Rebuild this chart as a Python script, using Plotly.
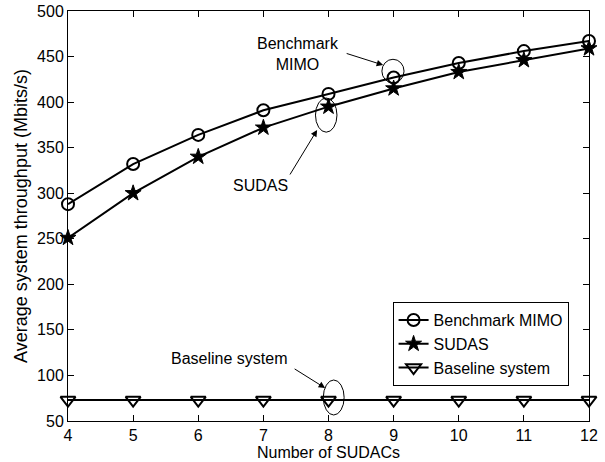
import plotly.graph_objects as go

num_sudacs = [4, 5, 6, 7, 8, 9, 10, 11, 12]
benchmark_mimo = [288, 332, 364, 391, 409, 427, 443, 456, 467]
sudas = [251, 300, 340, 372, 395, 415, 433, 446, 459]
baseline = [73, 73, 73, 73, 73, 73, 73, 73, 73]

x_ticks = [4, 5, 6, 7, 8, 9, 10, 11, 12]
y_ticks = [50, 100, 150, 200, 250, 300, 350, 400, 450, 500]

FONT = "Liberation Sans, Arial, sans-serif"

fig = go.Figure()
fig.add_trace(go.Scatter(
    x=num_sudacs, y=benchmark_mimo, name="Benchmark MIMO", mode="lines+markers",
    line=dict(color="black", width=2), cliponaxis=False,
    marker=dict(symbol="circle-open", size=12, color="black", line=dict(width=2)),
))
fig.add_trace(go.Scatter(
    x=num_sudacs, y=sudas, name="SUDAS", mode="lines+markers",
    line=dict(color="black", width=2), cliponaxis=False,
    marker=dict(symbol="star", size=12, color="black", line=dict(width=1, color="black")),
))
fig.add_trace(go.Scatter(
    x=num_sudacs, y=baseline, name="Baseline system", mode="lines+markers",
    line=dict(color="black", width=2), cliponaxis=False,
    marker=dict(symbol="triangle-down-open", size=13, color="black", line=dict(width=2)),
))

# ellipses
ell = dict(type="circle", xref="x", yref="y", line=dict(color="black", width=1))
fig.add_shape(x0=8.82, x1=9.16, y0=421, y1=447, **ell)
fig.add_shape(x0=7.80, x1=8.13, y0=367, y1=404.5, **ell)
fig.add_shape(x0=7.92, x1=8.24, y0=56.6, y1=95, **ell)

# arrows
arr = dict(xref="x", yref="y", axref="x", ayref="y", text="", showarrow=True,
           arrowhead=2, arrowsize=1.3, arrowwidth=1, arrowcolor="black",
           standoff=0, startstandoff=0)
fig.add_annotation(x=8.839, y=440.7, ax=8.256, ay=453.9, **arr)
fig.add_annotation(x=7.825, y=369.4, ax=7.395, ay=318.9, **arr)
fig.add_annotation(x=7.948, y=86.2, ax=7.457, ay=108.2, **arr)

txt = dict(xref="x", yref="y", showarrow=False, font=dict(family=FONT, size=16, color="black"))
fig.add_annotation(x=7.534, y=452.8, text="Benchmark<br>MIMO", align="center", **txt)
fig.add_annotation(x=6.95, y=309, text="SUDAS", **txt)
fig.add_annotation(x=6.481, y=119, text="Baseline system", **txt)

axis_common = dict(
    showline=True, linecolor="black", linewidth=1, mirror="ticks",
    ticks="inside", ticklen=6, tickcolor="black", showgrid=False, zeroline=False,
    tickfont=dict(family=FONT, size=16, color="black"), automargin=False,
)
fig.update_xaxes(range=[4, 12], tickvals=x_ticks,
                 title=dict(text="Number of SUDACs", font=dict(family=FONT, size=16, color="black"), standoff=0),
                 **axis_common)
fig.update_yaxes(range=[50, 500], tickvals=y_ticks,
                 title=dict(text="Average system throughput (Mbits/s)", font=dict(family=FONT, size=18, color="black"), standoff=4),
                 **axis_common)

fig.update_layout(
    width=605, height=462,
    margin=dict(l=68, r=16, t=11, b=41),
    paper_bgcolor="white", plot_bgcolor="white",
    font=dict(family=FONT, color="black"),
    legend=dict(x=0.623, y=0.29, xanchor="left", yanchor="top",
                bgcolor="white", bordercolor="black", borderwidth=1,
                font=dict(family=FONT, size=16, color="black"),
                tracegroupgap=0, itemwidth=30),
    showlegend=True,
)

fig.write_html("out.html", config={"displayModeBar": False},
               post_script="document.body.style.margin='0';")
